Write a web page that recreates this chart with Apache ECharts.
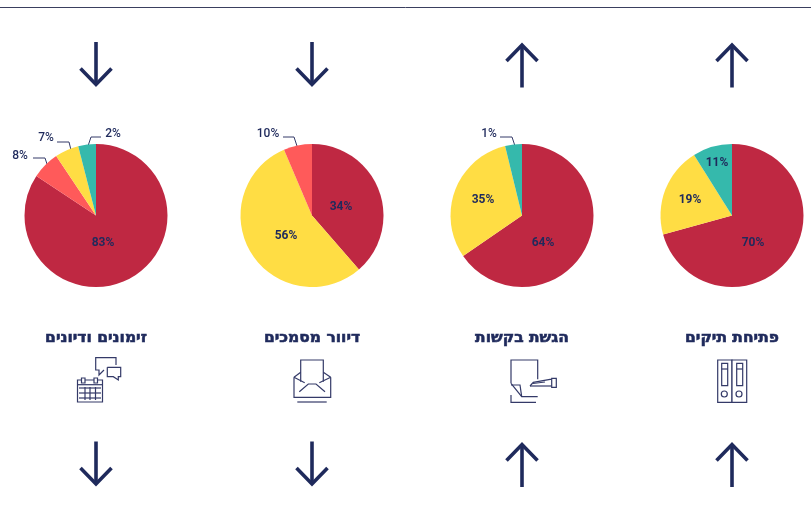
<!DOCTYPE html>
<html>
<head>
<meta charset="utf-8">
<style>
html, body { margin: 0; padding: 0; background: #fff; }
#myChart { width: 811px; height: 517px; }
</style>
<script src="https://cdn.jsdelivr.net/npm/echarts@6/dist/echarts.min.js"></script>
</head>
<body>
<div id="myChart"></div>
<script>
// categories, right to left in the source: drawn left to right here
const categories = ['זימונים ודיונים', 'דיוור מסמכים', 'הגשת בקשות', 'פתיחת תיקים'];

// printed percentages
const printed1 = ['83%', '8%', '7%', '2%'];
const printed2 = ['34%', '56%', '10%'];
const printed3 = ['64%', '35%', '1%'];
const printed4 = ['70%', '19%', '11%'];

// slice sizes as drawn in the picture (they differ a little from the printed numbers)
const slices1 = [84.3, 6.3, 5.4, 4];
const slices2 = [38.6, 55, 6.4];
const slices3 = [65.4, 30.8, 3.8];
const slices4 = [70.7, 20.4, 8.9];

const RED = '#bf2842', ORANGE = '#ff5a5a', YELLOW = '#ffdd44', TEAL = '#35b9ac';
const NAVY = '#1f2a5c', ICON = '#343a68';

const pies = [
    { x: 96, values: slices1, text: printed1, colors: [RED, ORANGE, YELLOW, TEAL], down: true },
    { x: 312, values: slices2, text: printed2, colors: [RED, YELLOW, ORANGE], down: true },
    { x: 522, values: slices3, text: printed3, colors: [RED, YELLOW, TEAL], down: false },
    { x: 732, values: slices4, text: printed4, colors: [RED, YELLOW, TEAL], down: false }
];

// label spots: [x, y] and optional leader line
const spots = [
    [
        { at: [103, 243] },
        { at: [20, 156], line: [[33, 158], [45, 158], [49, 170]] },
        { at: [46, 138], line: [[57, 142], [69, 142], [72, 154]] },
        { at: [113, 134], line: [[101, 137], [91, 137], [87, 149]] }
    ],
    [
        { at: [341, 207] },
        { at: [286, 236] },
        { at: [268, 134], line: [[283, 137], [294, 137], [298, 149]] }
    ],
    [
        { at: [543, 243] },
        { at: [483, 200] },
        { at: [489, 134], line: [[500, 137], [512, 137], [516, 149]] }
    ],
    [
        { at: [753, 243] },
        { at: [690, 200] },
        { at: [717, 163] }
    ]
];

let series = pies.map((p, i) => ({
    type: 'pie',
    center: [p.x, 215.5],
    radius: [0, 71.5],
    startAngle: 90,
    clockwise: true,
    silent: true,
    animation: false,
    avoidLabelOverlap: false,
    data: p.values.map((v, j) => ({
        value: v,
        name: p.text[j],
        itemStyle: { color: p.colors[j] },
        label: {
            show: true,
            formatter: p.text[j],
            position: spots[i][j].line ? 'outside' : 'inside',
            overflow: 'none',
            color: NAVY,
            fontFamily: 'Roboto',
            fontSize: 12,
            fontWeight: spots[i][j].line ? 500 : 700
        },
        labelLine: {
            show: !!spots[i][j].line,
            lineStyle: { color: ICON, width: 1 }
        }
    })),
    labelLayout: function (params) {
        let s = spots[i][params.dataIndex];
        return {
            x: s.at[0],
            y: s.at[1],
            align: 'center',
            verticalAlign: 'middle',
            labelLinePoints: s.line
        };
    }
}));

// icon and arrow helpers
function line(points, width, color) {
    return {
        type: 'polyline',
        silent: true,
        shape: { points: points },
        style: { stroke: color || ICON, lineWidth: width || 1.2, fill: null }
    };
}
function arrow(x, top, down) {
    // tip is pulled in a little because the mitred join sticks out past it
    let tip = down ? top + 42.5 : top + 3;
    let end = down ? top : top + 45.5;
    let wing = down ? tip - 16 : tip + 16;
    return [
        line([[x, end], [x, tip]], 3.6, NAVY),
        line([[x - 15.5, wing], [x, tip], [x + 15.5, wing]], 3.6, NAVY)
    ];
}
function rect(x, y, w, h) {
    return {
        type: 'rect',
        silent: true,
        shape: { x: x, y: y, width: w, height: h },
        style: { stroke: ICON, lineWidth: 1.2, fill: '#fff' }
    };
}
function circle(x, y, r) {
    return {
        type: 'circle',
        silent: true,
        shape: { cx: x, cy: y, r: r },
        style: { stroke: ICON, lineWidth: 1.2, fill: null }
    };
}

let calendarIcon = [
    rect(77.5, 380, 25, 22),
    line([[77.5, 384.7], [102.5, 384.7]]),
    rect(81.5, 378, 3.5, 5),
    rect(94, 378, 3.5, 5),
    line([[79, 388], [101, 388]]), line([[79, 393], [101, 393]]), line([[79, 398], [101, 398]]),
    line([[85, 387], [85, 400]]), line([[90, 387], [90, 400]]), line([[95.5, 387], [95.5, 400]]),
    line([[116, 365], [116, 357.7], [95.7, 357.7], [95.7, 370], [99, 370], [99, 375], [104, 370]]),
    line([[107.3, 367.3], [120.7, 367.3], [120.7, 376.7], [118.3, 376.7], [118.3, 380], [113.3, 376.7], [107.3, 376.7], [107.3, 367.3]])
];
let envelopeIcon = [
    line([[300.7, 381.7], [300.7, 360], [323.3, 360], [323.3, 381.7]]),
    line([[294, 377.3], [294, 397.3], [330.7, 397.3], [330.7, 377.3]]),
    line([[294, 377.3], [300.7, 372.3]]), line([[330.7, 377.3], [323.3, 372.3]]),
    line([[294, 377.3], [304.7, 382.7]]), line([[330.7, 377.3], [319.3, 382.7]]),
    line([[299.3, 391.7], [308.3, 384], [316, 384], [325, 391.7]]),
    line([[297.3, 402], [326.7, 402]])
];
let requestIcon = [
    line([[511, 383.3], [511, 360], [537.7, 360], [537.7, 379.3]]),
    line([[511, 383.3], [521.7, 396.7], [537.7, 396.7]]),
    line([[511, 385], [520, 385], [521.7, 396.7]]),
    line([[511, 395], [511, 402.3], [536, 402.3]]),
    line([[530, 386], [533.3, 382.3], [550, 379.3], [551.7, 379.3]]),
    line([[530, 386], [551.7, 386]]),
    line([[533, 383.5], [545, 382]]),
    rect(551.7, 378.3, 4.6, 9)
];
let binderIcon = [
    rect(717.7, 360, 14.3, 42.3),
    rect(732, 360, 14.7, 42.3),
    rect(721.7, 363.3, 6, 22.4),
    rect(736.7, 363.3, 6, 22.4),
    line([[721.7, 369], [727.7, 369]]),
    line([[736.7, 369], [742.7, 369]]),
    circle(724.3, 394, 3),
    circle(739, 394, 3)
];

let titles = categories.map((c, i) => ({
    type: 'text',
    silent: true,
    style: {
        x: pies[i].x,
        y: 338,
        text: c,
        fill: NAVY,
        stroke: NAVY,
        lineWidth: 0.6,
        font: '700 15.5px "DejaVu Sans"',
        align: 'center',
        verticalAlign: 'middle'
    }
}));

let arrows = [];
pies.forEach(p => {
    arrows = arrows.concat(arrow(p.x, 42, p.down), arrow(p.x, 441.5, p.down));
});

let myEchart = echarts.init(document.getElementById('myChart'), null, { renderer: 'canvas' });
myEchart.setOption({
    animation: false,
    backgroundColor: '#fff',
    graphic: {
        elements: [line([[0, 7.5], [811, 7.5]], 1, '#3a3f5f')]
            .concat(arrows, titles, calendarIcon, envelopeIcon, requestIcon, binderIcon)
    },
    series: series
});
</script>
</body>
</html>
